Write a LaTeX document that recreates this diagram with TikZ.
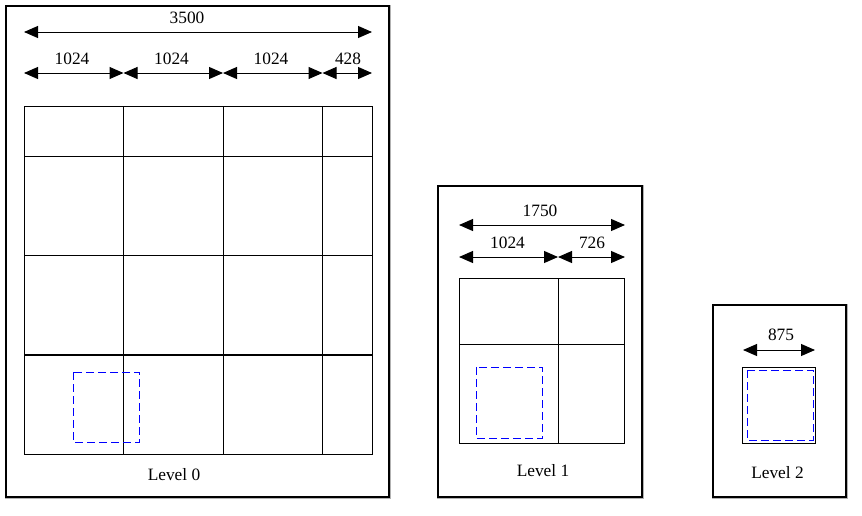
\documentclass[tikz,border=0pt]{standalone}
\usepackage{fontspec}
\setmainfont{Liberation Serif}
\usetikzlibrary{arrows.meta}
\begin{document}
\begin{tikzpicture}[x=0.75pt,y=-0.75pt,
  panel/.style={draw=black,line width=1.5pt},
  shadowline/.style={draw=black!30,line width=0.75pt},
  gridline/.style={draw=black,line width=0.75pt},
  thickline/.style={draw=black,line width=1.5pt},
  dim/.style={line width=0.75pt,{Triangle[length=10.5pt,width=9pt]}-{Triangle[length=10.5pt,width=9pt]}},
  roi/.style={draw=blue,line width=0.75pt,dash pattern=on 6pt off 3pt},
  lbl/.style={font=\fontsize{13pt}{15pt}\selectfont,inner sep=0pt}
]
\useasboundingbox (0,0) rectangle (862,515);

% ---------- panels ----------
\draw[shadowline] (5,5) rectangle (390.5,498.5);
\draw[panel] (6,6) rectangle (389,497);
\draw[shadowline] (437,185) rectangle (643.5,498.5);
\draw[panel] (438,186) rectangle (642,497);
\draw[shadowline] (712,304) rectangle (847.5,498.5);
\draw[panel] (713,305) rectangle (846,497);

% ---------- Level 0 ----------
\draw[gridline] (24,106) rectangle (372,454);
\foreach \x in {123.5,223,322.5} \draw[gridline] (\x,106) -- (\x,454);
\foreach \y in {156,255} \draw[gridline] (24,\y) -- (372,\y);
\draw[thickline] (24,355) -- (372,355);
\draw[roi] (73,372) rectangle (139.5,442);

\coordinate (a0l) at (24,32);
\coordinate (a0r) at (372,32);
\draw[dim] (a0l) -- (a0r);
\node[lbl] (t3500) at (187,17.5) {3500};

\coordinate (b0) at (24,73);
\coordinate (b1) at (123.5,73);
\coordinate (b2) at (223,73);
\coordinate (b3) at (322.5,73);
\coordinate (b4) at (372,73);
\draw[dim] (b0) -- (b1);
\draw[dim] (b1) -- (b2);
\draw[dim] (b2) -- (b3);
\draw[dim] (b3) -- (b4);
\node[lbl] (t0a) at (72,59) {1024};
\node[lbl] (t0b) at (171.5,59) {1024};
\node[lbl] (t0c) at (271,59) {1024};
\node[lbl] (t0d) at (348,59) {428};
\node[lbl] (lev0) at (174,475) {Level 0};

% ---------- Level 1 ----------
\draw[gridline] (459,278) rectangle (624,443);
\draw[gridline] (558,278) -- (558,443);
\draw[gridline] (459,344) -- (624,344);
\draw[roi] (476,367) rectangle (542.5,438);

\coordinate (c0) at (459,225);
\coordinate (c1) at (625,225);
\draw[dim] (c0) -- (c1);
\node[lbl] (t1750) at (540,211) {1750};
\coordinate (d0) at (459,257);
\coordinate (d1) at (558,257);
\coordinate (d2) at (625,257);
\draw[dim] (d0) -- (d1);
\draw[dim] (d1) -- (d2);
\node[lbl] (t1a) at (507.5,242.5) {1024};
\node[lbl] (t1b) at (592,242.5) {726};
\node[lbl] (lev1) at (543,470.5) {Level 1};

% ---------- Level 2 ----------
\draw[gridline] (742,367) rectangle (815.5,443);
\draw[roi] (747,370) rectangle (813,440);
\coordinate (e0) at (743,350);
\coordinate (e1) at (815,350);
\draw[dim] (e0) -- (e1);
\node[lbl] (t875) at (781,335) {875};
\node[lbl] (lev2) at (777.5,472.5) {Level 2};
\end{tikzpicture}
\end{document}
